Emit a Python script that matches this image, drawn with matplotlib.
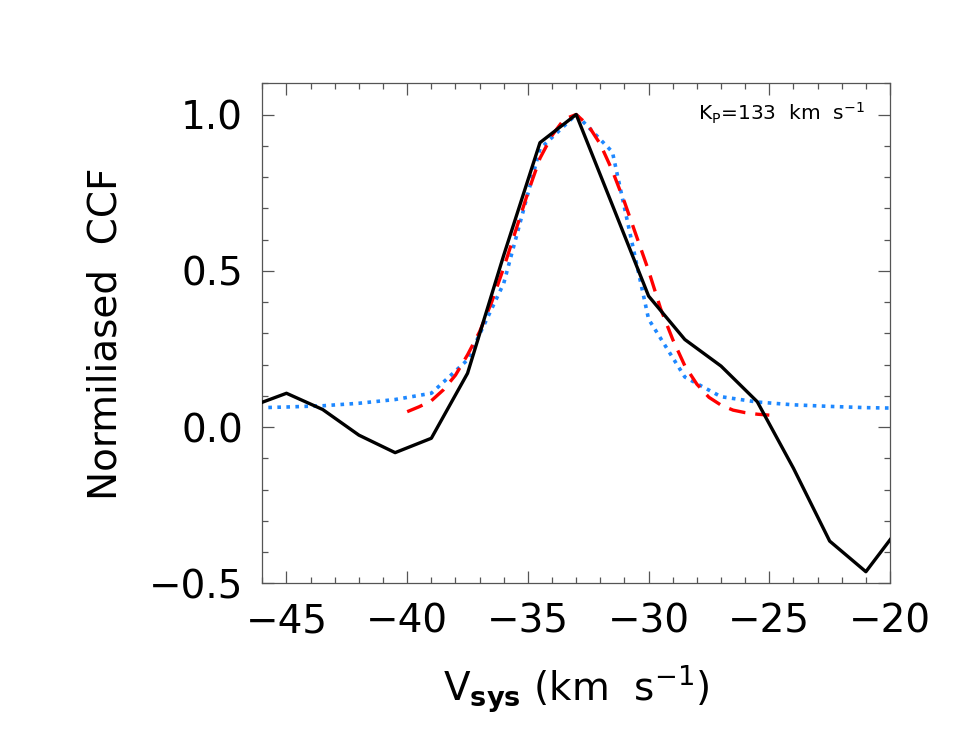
import matplotlib
matplotlib.use('Agg')
import matplotlib.pyplot as plt
from matplotlib.ticker import MultipleLocator, FuncFormatter

plt.rcParams['font.family'] = ['DejaVu Sans']
plt.rcParams['mathtext.fontset'] = 'custom'
plt.rcParams['mathtext.rm'] = 'DejaVu Sans'
plt.rcParams['mathtext.it'] = 'DejaVu Sans'
plt.rcParams['mathtext.bf'] = 'DejaVu Sans:bold'

# observed CCF (black)
v_obs = [-46.5, -45, -43.5, -42, -40.5, -39, -37.5, -36, -34.5, -33,
         -31.5, -30, -28.5, -27, -25.5, -24, -22.5, -21, -19.5]
ccf_obs = [0.065, 0.108, 0.056, -0.026, -0.082, -0.036, 0.172, 0.55, 0.91, 1.0,
           0.71, 0.419, 0.28, 0.195, 0.081, -0.132, -0.365, -0.463, -0.31]

# fit (red dashed)
v_fit = [-40, -39.5, -39, -38.5, -38, -37.5, -37, -36.5, -36, -35.5, -35,
         -34.5, -34, -33.5, -33, -32.5, -32, -31.5, -31, -30.5, -30,
         -29.5, -29, -28.5, -28, -27.5, -27, -26.5, -26, -25.5, -25]
ccf_fit = [0.049, 0.065, 0.084, 0.119, 0.166, 0.231, 0.305, 0.40, 0.51, 0.63, 0.75,
           0.86, 0.933, 0.985, 1.0, 0.965, 0.905, 0.82, 0.72, 0.61, 0.50,
           0.378, 0.28, 0.196, 0.137, 0.095, 0.07, 0.054, 0.046, 0.041, 0.038]

# model (blue dotted)
v_mod = [-46.5, -45, -43.5, -42, -40.5, -39, -37.5, -36, -34.5, -33,
         -31.5, -30, -28.5, -27, -25.5, -24, -22.5, -21, -19.5]
ccf_mod = [0.061, 0.064, 0.068, 0.076, 0.088, 0.108, 0.215, 0.46, 0.89, 1.0,
           0.88, 0.345, 0.16, 0.097, 0.08, 0.071, 0.066, 0.062, 0.06]

fig = plt.figure(figsize=(9.67, 7.5), dpi=100)
ax = fig.add_axes([0.2713, 0.2223, 0.6491, 0.6667])

ax.plot(v_obs, ccf_obs, color='black', lw=2.4, zorder=3)
ax.plot(v_fit, ccf_fit, color='red', lw=2.4, ls=(0, (5, 3)), zorder=2)
ax.plot(v_mod, ccf_mod, color='#1E88FF', lw=2.6, ls=(0, (1, 1.5)), zorder=1)

ax.set_xlim(-46, -20)
ax.set_ylim(-0.5, 1.1)
ax.xaxis.set_major_locator(MultipleLocator(5))
ax.xaxis.set_minor_locator(MultipleLocator(1))
ax.yaxis.set_major_locator(MultipleLocator(0.5))
ax.yaxis.set_minor_locator(MultipleLocator(0.1))
ax.yaxis.set_major_formatter(FuncFormatter(lambda v, p: f'{v:.1f}'.replace('-', '\u2212')))

for s in ax.spines.values():
    s.set_color('#555555')
    s.set_linewidth(0.9)
ax.tick_params(which='both', direction='in', top=True, right=True,
               color='#555555', width=0.9)
ax.tick_params(which='major', length=8.5, labelsize=28, pad=14)
ax.tick_params(which='minor', length=4.3)

ax.set_xlabel(r'V$_{\mathbf{sys}}$ (km  s$^{-1}$)', fontsize=28, labelpad=16)
ax.set_ylabel('Normiliased  CCF', fontsize=28, labelpad=17)

ax.text(0.96, 0.94, r'K$_{\mathrm{P}}$=133  km  s$^{-1}$', transform=ax.transAxes,
        ha='right', va='center', fontsize=14.5)

fig.savefig('out.png', dpi=100)
